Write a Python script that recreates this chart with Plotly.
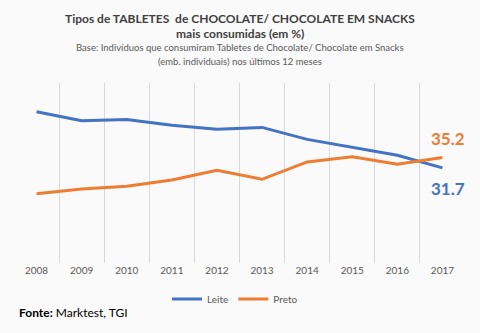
import plotly.graph_objects as go

years = ["2008", "2009", "2010", "2011", "2012", "2013", "2014", "2015", "2016", "2017"]
leite = [50.4, 47.4, 47.8, 45.9, 44.6, 45.2, 41.2, 38.6, 35.9, 31.7]
preto = [23.1, 24.7, 25.6, 27.7, 30.9, 27.9, 33.7, 35.4, 32.9, 35.2]

BLUE = "#4472C4"
ORANGE = "#ED7D31"
FONT = "Lato"

fig = go.Figure()
fig.add_trace(go.Scatter(x=years, y=leite, mode="lines", name="Leite",
                         line=dict(color=BLUE, width=3)))
fig.add_trace(go.Scatter(x=years, y=preto, mode="lines", name="Preto",
                         line=dict(color=ORANGE, width=3)))

last = len(years) - 1
fig.add_annotation(xref="x", yref="y", x=last, y=preto[-1], text="<b>%.1f</b>" % preto[-1],
                   showarrow=False, xshift=6, yshift=19,
                   font=dict(family=FONT, size=17, color=ORANGE))
fig.add_annotation(xref="x", yref="y", x=last, y=leite[-1], text="<b>%.1f</b>" % leite[-1],
                   showarrow=False, xshift=6, yshift=-21,
                   font=dict(family=FONT, size=17, color=BLUE))

def top_text(txt, shift, size, color):
    fig.add_annotation(xref="paper", yref="paper", x=0.5, y=1, yanchor="middle",
                       yshift=shift, text=txt, showarrow=False,
                       font=dict(family=FONT, size=size, color=color))

top_text("<b>Tipos de TABLETES  de CHOCOLATE/ CHOCOLATE EM SNACKS</b>", 65, 12, "#404040")
top_text("<b>mais consumidas (em %)</b>", 50, 12, "#404040")
top_text("Base: Indivíduos que consumiram Tabletes de Chocolate/ Chocolate em Snacks", 36, 9.5, "#595959")
top_text("(emb. individuais) nos últimos 12 meses", 22, 9.5, "#595959")

fig.add_annotation(xref="paper", yref="paper", x=0, xanchor="left", xshift=3,
                   y=0, yanchor="middle", yshift=-49,
                   text="<b>Fonte:</b> Marktest, TGI",
                   showarrow=False, font=dict(family=FONT, size=12, color="#000000"))

fig.update_layout(
    width=480, height=333,
    margin=dict(l=14, r=15, t=83, b=70),
    paper_bgcolor="#FAFAFA", plot_bgcolor="#FAFAFA",
    font=dict(family=FONT, color="#595959"),
    showlegend=True,
    legend=dict(orientation="h", x=0.49, xanchor="center", y=-0.2, yanchor="middle",
                font=dict(family=FONT, size=10, color="#595959"),
                bgcolor="rgba(0,0,0,0)", itemwidth=30),
    xaxis=dict(type="category", tickson="boundaries", showgrid=True,
               gridcolor="#D9D9D9", gridwidth=1, ticks="", showline=False,
               zeroline=False, range=[-0.5, 9.5],
               tickfont=dict(family=FONT, size=10, color="#595959")),
    yaxis=dict(range=[0, 60], showgrid=False, showticklabels=False,
               zeroline=False, showline=False),
)

fig.write_html("out.html")
